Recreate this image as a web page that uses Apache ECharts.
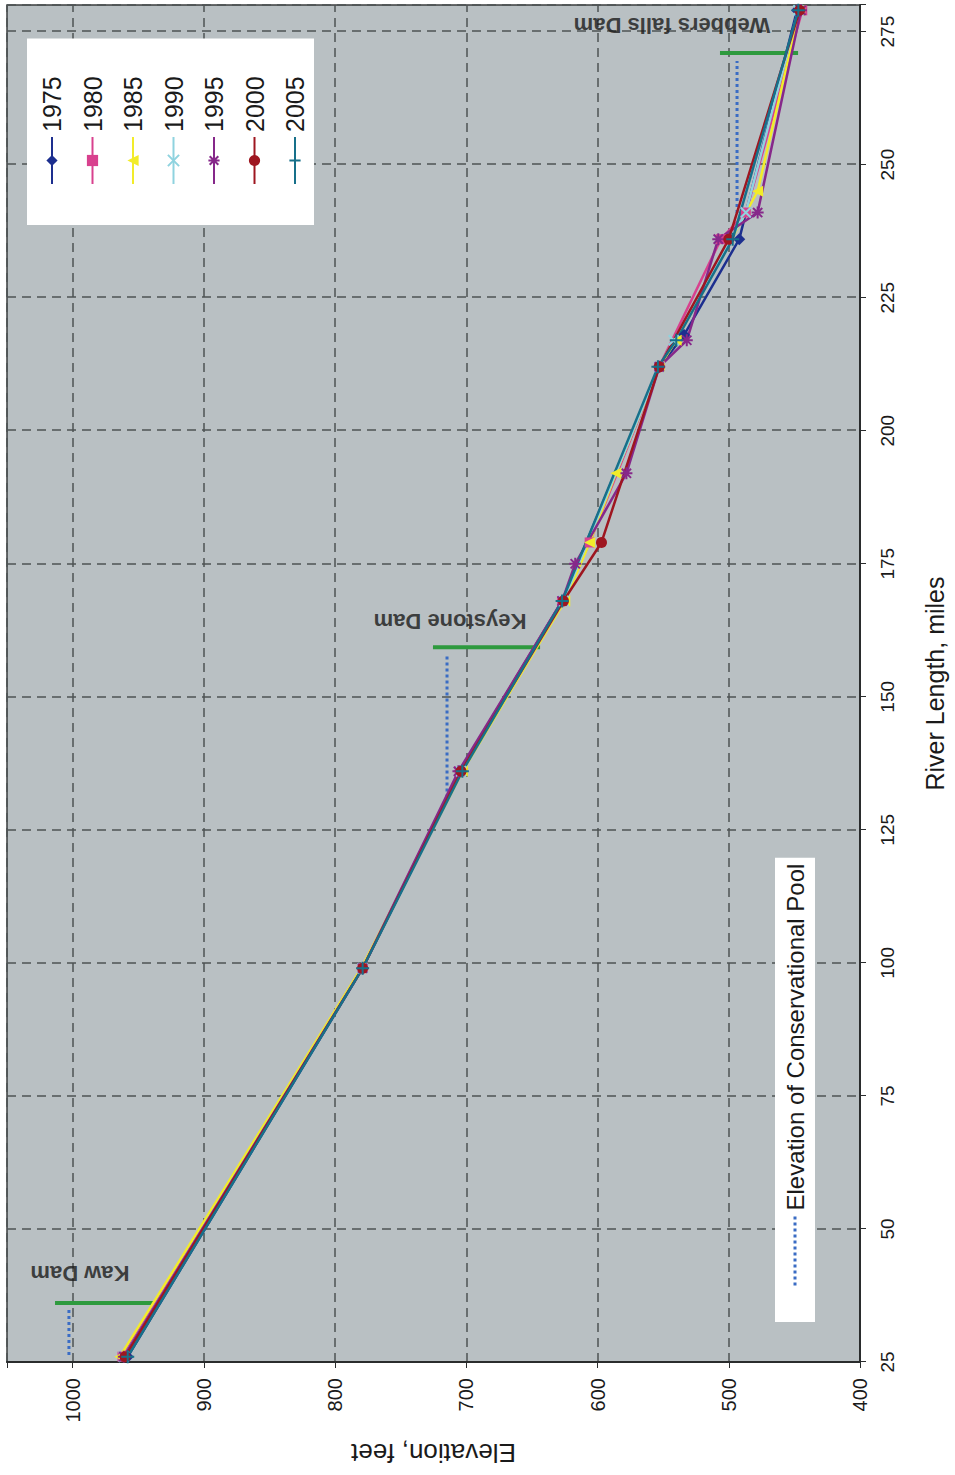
<!DOCTYPE html>
<html>
<head>
<meta charset="utf-8">
<script src="https://cdn.jsdelivr.net/npm/echarts/dist/echarts.min.js"></script>
<style>
  html, body { margin: 0; padding: 0; background: #fff; overflow: hidden; width: 955px; height: 1475px; }
  /* the chart is laid out landscape and turned a quarter turn onto the portrait page */
  #chart {
    position: absolute; left: 0; top: 0;
    width: 1475px; height: 955px;
    transform-origin: 0 0;
    transform: translateY(1475px) rotate(-90deg);
  }
</style>
</head>
<body>
<div id="chart"></div>
<script>
// River profile: elevation (feet) against river length (miles), one line per survey year
const years = ['1975', '1980', '1985', '1990', '1995', '2000', '2005'];

const profile1975 = [[26, 958], [99, 779], [136, 705], [168, 627], [212, 553], [218, 534], [236, 492], [279, 448]];
const profile1980 = [[26, 962], [99, 779], [136, 705], [168, 627], [179, 606], [212, 553], [236, 506], [241, 487], [279, 444]];
const profile1985 = [[26, 964], [99, 780], [136, 703], [168, 625], [179, 606], [192, 586], [212, 553], [217, 540], [245, 478], [279, 446]];
const profile1990 = [[26, 961], [99, 779], [136, 704], [168, 626], [212, 553], [217, 542], [241, 487], [279, 447]];
const profile1995 = [[26, 961], [99, 779], [136, 706], [168, 627], [175, 617], [192, 578], [212, 553], [217, 532], [236, 508], [241, 478], [279, 445]];
const profile2000 = [[26, 960], [99, 779], [136, 704], [168, 626], [179, 597], [212, 553], [236, 500], [279, 446]];
const profile2005 = [[26, 958], [99, 779], [136, 703], [168, 627], [212, 554], [217, 540], [236, 497], [279, 447]];
const profiles = [profile1975, profile1980, profile1985, profile1990, profile1995, profile2000, profile2005];

// Dams: mile of the dam and the elevation span it covers
const damNames = ['Kaw Dam', 'Keystone Dam', 'Webbers falls Dam'];
const damMile = [36.1, 159.3, 271.0];
const damTop = [1013.4, 725.4, 506.7];
const damBottom = [938.7, 643.8, 447.2];

// Conservation pool elevation behind each dam and the reach it spans
const poolName = 'Elevation of Conservational Pool';
const poolElev = [1002.8, 714.7, 493.7];
const poolFrom = [26.3, 131.1, 240.9];
const poolTo = [35.1, 157.8, 269.5];

// Where each dam's name is written (mile, elevation)
const damLabelMile = [41.7, 164.1, 276.1];
const damLabelElev = [994.4, 712.4, 543.3];

// Axis ticks
const mileTicks = [25, 50, 75, 100, 125, 150, 175, 200, 225, 250, 275];
const elevTicks = [400, 500, 600, 700, 800, 900, 1000];

const colors = ['#1d2f8f', '#d8418e', '#f2ec2a', '#8fd3df', '#86288a', '#9e1620', '#17708a'];
const symbols = [
  'diamond', 'rect', 'triangle',
  'path://M0,0L10,10M10,0L0,10',
  'path://M0,0L10,10M10,0L0,10M5,-1.5L5,11.5M-1.5,5L11.5,5',
  'circle',
  'path://M5,0L5,10M0,5L10,5'
];
const strokedSymbol = [false, false, false, true, true, false, true];
const symbolSizes = [12, 10, 11, 10, 12, 11, 13];

const FONT = '"Liberation Sans", Arial, Helvetica, sans-serif';

const series = [];

// green dam bars
damNames.forEach((name, i) => {
  series.push({
    name: name,
    type: 'line',
    data: [[damMile[i], damBottom[i]], [damMile[i], damTop[i]]],
    symbol: 'none',
    lineStyle: { color: '#2e9a3e', width: 4 },
    silent: true,
    z: 2
  });
});

// dotted conservation pool lines
damNames.forEach((name, i) => {
  series.push({
    name: poolName,
    type: 'line',
    data: [[poolFrom[i], poolElev[i]], [poolTo[i], poolElev[i]]],
    symbol: 'none',
    color: '#3a6cc4',
    lineStyle: { color: '#3a6cc4', width: 3, type: 'dotted' },
    silent: true,
    z: 2
  });
});

// yearly profiles
years.forEach((y, i) => {
  series.push({
    name: y,
    type: 'line',
    data: profiles[i],
    color: colors[i],
    symbol: symbols[i],
    symbolSize: symbolSizes[i],
    showSymbol: true,
    lineStyle: { color: colors[i], width: 2.5 },
    itemStyle: strokedSymbol[i]
      ? { color: colors[i], borderColor: colors[i], borderWidth: 2 }
      : { color: colors[i] },
    z: 3
  });
});

// dam names
series.push({
  name: 'dam labels',
  type: 'scatter',
  symbolSize: 0,
  silent: true,
  data: damNames.map((n, i) => ({ name: n, value: [damLabelMile[i], damLabelElev[i]] })),
  label: {
    show: true,
    position: 'inside',
    formatter: '{b}',
    rotate: 90,
    fontFamily: FONT,
    fontWeight: 'bold',
    fontSize: 22,
    color: '#1a1a1a'
  },
  z: 4
});

const chart = echarts.init(document.getElementById('chart'), null, { renderer: 'svg', width: 1475, height: 955 });

chart.setOption({
  animation: false,
  backgroundColor: '#ffffff',
  textStyle: { fontFamily: FONT },
  grid: {
    show: true,
    left: 113, right: 5, top: 7, bottom: 95,
    backgroundColor: '#b9c0c3',
    borderColor: '#3a3d3e',
    borderWidth: 1.5
  },
  xAxis: {
    type: 'value',
    min: 25, max: 280, interval: 25,
    name: 'River Length, miles',
    nameLocation: 'middle',
    nameGap: 62,
    nameTextStyle: { fontFamily: FONT, fontSize: 25, color: '#1a1a1a' },
    axisLine: { show: true, onZero: false, lineStyle: { color: '#2a2c2d', width: 2 } },
    axisTick: { show: true, length: 6, lineStyle: { color: '#2a2c2d' } },
    axisLabel: {
      fontFamily: FONT, fontSize: 19, color: '#1a1a1a', margin: 18,
      formatter: v => (mileTicks.includes(v) ? String(v) : '')
    },
    splitLine: { show: true, lineStyle: { color: '#4e5354', width: 1.5, type: [9, 6] } }
  },
  yAxis: {
    type: 'value',
    min: 400, max: 1050, interval: 100,
    name: 'Elevation, feet',
    nameLocation: 'middle',
    nameGap: 78,
    nameTextStyle: { fontFamily: FONT, fontSize: 26, color: '#1a1a1a' },
    axisLine: { show: true, onZero: false, lineStyle: { color: '#2a2c2d', width: 2 } },
    axisTick: { show: true, length: 6, lineStyle: { color: '#2a2c2d' } },
    axisLabel: {
      fontFamily: FONT, fontSize: 20, color: '#1a1a1a', margin: 16,
      formatter: v => (elevTicks.includes(v) ? String(v) : '')
    },
    splitLine: { show: true, lineStyle: { color: '#4e5354', width: 1.5, type: [9, 6] } }
  },
  legend: [
    {
      data: years,
      orient: 'vertical',
      left: 1250, top: 27,
      backgroundColor: '#ffffff',
      padding: [12, 38, 6, 40],
      itemWidth: 47,
      itemHeight: 14,
      itemGap: 14.5,
      selectedMode: false,
      textStyle: { fontFamily: FONT, fontSize: 25, lineHeight: 26, color: '#1a1a1a' }
    },
    {
      data: [poolName],
      orient: 'horizontal',
      left: 153, top: 775,
      backgroundColor: '#ffffff',
      padding: [6, 6, 6, 35],
      itemWidth: 70,
      itemHeight: 12,
      selectedMode: false,
      // the pool key is a bare dotted line, no point marker
      itemStyle: { color: 'rgba(0,0,0,0)', borderColor: 'rgba(0,0,0,0)', borderWidth: 0 },
      lineStyle: { color: '#3a6cc4', width: 3, type: 'dotted' },
      textStyle: { fontFamily: FONT, fontSize: 24, lineHeight: 28, color: '#1a1a1a' }
    }
  ],
  series: series
});
</script>
</body>
</html>
